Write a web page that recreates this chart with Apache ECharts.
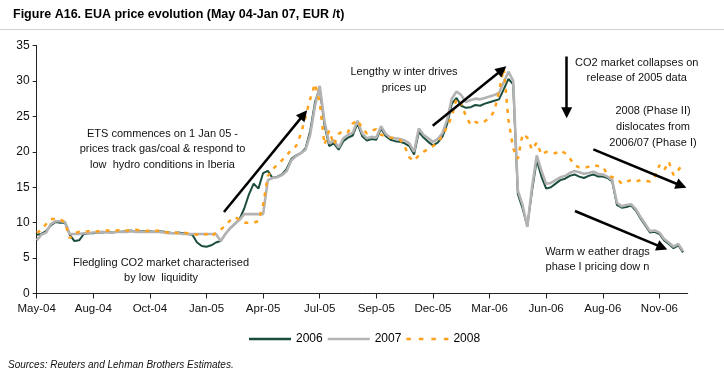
<!DOCTYPE html>
<html><head><meta charset="utf-8">
<script src="https://cdn.jsdelivr.net/npm/echarts@6/dist/echarts.min.js"></script>
<style>html,body{margin:0;padding:0;background:#fff}#c{width:724px;height:378px}</style>
</head><body><div id="c"></div>
<script>
// x tick labels: one every 12 data points
const tickLabels = ['May-04','Aug-04','Oct-04','Jan-05','Apr-05','Jul-05','Sep-05','Dec-05','Mar-06','Jun-06','Aug-06','Nov-06'];
const pointsPerTick = 12;
const nCategories = 139;
const yTicks = [0, 35, 5]; // min, max, interval

const s2006 = [
 8.3, 8.4, 8.8, 9.6,10.1,10.0,10.0, 8.3, 7.4, 7.5,
 8.4, 8.5, 8.5, 8.6, 8.6, 8.7, 8.6, 8.7, 8.7, 8.8,
 8.9, 8.7, 8.8, 8.8, 8.8, 8.7, 8.8, 8.7, 8.6, 8.5,
 8.6, 8.5, 8.4, 8.3, 7.2, 6.7, 6.6, 6.8, 7.2, 7.4,
 8.4, 9.2, 9.8,10.5,12.0,14.0,15.5,14.8,17.0,17.3,
16.3,16.5,16.8,17.6,19.0,19.5,19.8,20.5,23.0,27.0,
29.0,23.8,20.8,21.2,20.3,21.5,22.0,22.3,24.0,22.2,
21.6,21.8,21.7,23.3,22.2,21.7,21.5,21.4,21.2,20.8,
19.6,22.8,22.0,21.4,20.9,21.3,22.1,23.9,26.8,27.6,
26.5,26.2,26.3,26.6,26.5,26.8,27.0,27.2,27.4,28.8,
30.3,29.5,14.0,12.0, 9.5,14.5,18.8,16.5,14.8,15.0,
15.5,16.0,16.2,16.6,16.8,16.5,16.3,16.6,16.8,16.5,
16.5,16.3,15.8,12.5,12.1,12.2,12.4,11.7,10.6, 9.6,
 8.6, 8.7, 8.4, 7.5, 7.0, 6.4, 6.8, 5.8
];
const s2007 = [
 7.5, 8.3, 8.6, 9.8,10.2,10.2,10.1, 8.4, 8.4, 8.4,
 8.5, 8.5, 8.6, 8.6, 8.7, 8.6, 8.6, 8.7, 8.7, 8.7,
 8.8, 8.7, 8.7, 8.7, 8.7, 8.7, 8.7, 8.6, 8.5, 8.5,
 8.5, 8.4, 8.4, 8.4, 8.4, 8.4, 8.4, 8.4, 8.4, 7.4,
 8.4, 9.2, 9.8,10.4,11.2,11.2,11.2,11.2,11.2,16.0,
16.3,16.4,16.7,17.3,18.8,19.4,19.8,20.3,22.5,26.5,
29.3,24.3,21.2,21.6,20.6,21.9,22.4,22.7,24.4,22.6,
21.9,22.1,22.0,23.6,22.5,22.0,21.9,21.8,21.6,21.2,
20.0,23.3,22.4,21.9,21.4,21.8,22.6,24.5,27.5,28.5,
28.0,27.0,27.3,27.5,27.4,27.6,27.8,28.0,28.3,29.8,
31.3,30.0,14.5,12.5, 9.4,15.0,19.5,17.3,15.5,15.6,
16.0,16.4,16.6,17.0,17.3,17.1,16.9,17.0,17.2,16.9,
16.8,16.5,16.0,12.8,12.3,12.5,12.6,11.9,10.8, 9.8,
 8.8, 8.9, 8.6, 7.7, 7.2, 6.6, 7.0, 6.0
];
const s2008 = [
 8.6, 8.9, 9.8,10.5,10.5,10.5,10.0, 7.8, 8.5, 8.7,
 8.7, 8.8, 8.7, 8.8, 8.9, 8.9, 8.8, 8.9, 9.0, 8.9,
 8.9, 9.0, 8.9, 8.8, 8.9, 8.8, 8.9, 8.7, 8.6, 8.7,
 8.5, 8.6, 8.5, 8.4, 8.3, 8.2, 8.4, 8.0, 8.6, 9.0,
 9.6,10.3,10.8,10.4,10.0,10.0,10.0,10.2,12.5,16.6,
17.5,18.2,18.8,19.5,20.3,20.8,22.5,25.0,27.5,29.6,
27.0,21.0,23.0,21.0,22.5,23.0,22.8,24.0,24.5,23.3,
22.6,23.0,23.2,22.4,22.2,22.0,21.9,21.7,20.8,19.2,
18.7,19.5,20.0,20.4,20.8,21.3,22.3,23.5,25.0,27.5,
26.8,25.0,23.8,24.2,24.0,24.3,24.8,25.7,28.5,31.8,
24.5,20.5,19.0,22.5,22.0,20.3,21.3,19.6,20.0,19.9,
19.8,20.2,19.8,19.1,18.1,17.8,17.7,17.9,18.1,18.0,
17.9,16.8,16.4,16.2,15.5,15.8,16.0,15.8,16.0,15.9,
15.8,16.5,18.1,17.4,18.6,16.7,17.4,18.4
];
// annotation arrows [x0, y0, x1, y1] in (point index, EUR/t)
const arrowLines = [
  [39.7, 11.5, 56.6, 25.25],
  [83.95, 23.68, 98.66, 31.57],
  [112.35, 33.45, 112.35, 25.5],
  [118.0, 20.35, 136.65, 15.21],
  [114.1, 11.64, 132.6, 6.5]
];

const categories = Array.from({length: nCategories}, (_, i) => String(i));
const FONT = 'Liberation Sans, Arial, sans-serif';
const C2006 = '#1b4d3e', C2007 = '#b3b3b3', C2008 = '#ffa11a';
const chart = echarts.init(document.getElementById('c'), null, {renderer: 'canvas'});

function note(text, x, y, lh) {
  return {type: 'text', x: x, y: y, silent: true,
    style: {text: text, fill: '#111', font: '11px ' + FONT, textAlign: 'center', textVerticalAlign: 'middle', lineHeight: lh}};
}
const solidIcon = 'path://M0,0H42V2.4H0Z';
const dashIcon = 'path://M0,0H4.5V2.4H0Z M12.5,0H17V2.4H12.5Z M25,0H29.5V2.4H25Z M37.5,0H42V2.4H37.5Z';

chart.setOption({
  animation: false,
  backgroundColor: '#fff',
  title: {text: 'Figure A16. EUA price evolution (May 04-Jan 07, EUR /t)', left: 8, top: 3,
    textStyle: {fontFamily: FONT, fontWeight: 'bold', fontSize: 12.5, color: '#000'}},
  grid: {left: 36.67, right: 36.3, top: 45.5, bottom: 84.5},
  legend: {
    data: [{name: '2006', icon: solidIcon}, {name: '2007', icon: solidIcon}, {name: '2008', icon: dashIcon}],
    left: 244, top: 328, itemWidth: 42, itemHeight: 2.4, itemGap: 5,
    textStyle: {fontFamily: FONT, fontSize: 12, color: '#000'}},
  xAxis: [{
    type: 'category', data: categories, boundaryGap: false,
    axisLine: {lineStyle: {color: '#222', width: 1}},
    axisTick: {interval: pointsPerTick - 1, length: 5, lineStyle: {color: '#222'}},
    axisLabel: {interval: pointsPerTick - 1, margin: 9, fontFamily: FONT, fontSize: 11.5, color: '#111',
      formatter: (v, idx) => (idx % pointsPerTick === 0 ? (tickLabels[idx / pointsPerTick] || '') : '')},
    splitLine: {show: false}
  }, {
    type: 'value', min: 0, max: nCategories - 1, show: false
  }],
  yAxis: {
    type: 'value', min: yTicks[0], max: yTicks[1], interval: yTicks[2],
    axisLine: {show: true, lineStyle: {color: '#222', width: 1}},
    axisTick: {show: true, length: 4, lineStyle: {color: '#222'}},
    axisLabel: {margin: 7, fontFamily: FONT, fontSize: 12, color: '#111'},
    splitLine: {show: false}
  },
  series: [
    {name: '2006', type: 'line', data: s2006, symbol: 'none', color: C2006,
     lineStyle: {color: C2006, width: 2}},
    {name: '2007', type: 'line', data: s2007, symbol: 'none', color: C2007,
     lineStyle: {color: C2007, width: 2.6}},
    {name: '2008', type: 'line', data: s2008, symbol: 'none', color: C2008,
     lineStyle: {color: C2008, width: 2.5, type: [4, 6]}},
    {name: 'arrows', type: 'line', xAxisIndex: 1, data: [], symbol: 'none',
     markLine: {silent: true, animation: false, symbol: ['none', 'triangle'], symbolSize: 11,
       lineStyle: {color: '#000', width: 2.5, type: 'solid'}, label: {show: false},
       emphasis: {disabled: true},
       itemStyle: {color: '#000'},
       data: arrowLines.map(a => [{coord: [a[0], a[1]]}, {coord: [a[2], a[3]]}])}}
  ],
  graphic: [
    {type: 'line', silent: true, shape: {x1: 0, y1: 29.5, x2: 724, y2: 29.5}, style: {stroke: '#d2d2d2', lineWidth: 1}},
    note('ETS commences on 1 Jan 05 -\nprices track gas/coal & respond to\nlow  hydro conditions in Iberia', 162.5, 149, 15.5),
    note('Fledgling CO2 market characterised\nby low  liquidity', 161, 270.5, 15.6),
    note('Lengthy w inter drives\nprices up', 404, 80.3, 16),
    note('CO2 market collapses on\nrelease of 2005 data', 636.7, 70.3, 15.5),
    note('2008 (Phase II)\ndislocates from\n2006/07 (Phase I)', 653, 127.2, 16),
    note('Warm w eather drags\nphase I pricing dow n', 597.5, 259.8, 15),
    {type: 'text', x: 8, y: 365, silent: true,
     style: {text: 'Sources: Reuters and Lehman Brothers Estimates.', fill: '#111', font: 'italic 10px ' + FONT, textVerticalAlign: 'middle'}}
  ]
});
</script>
</body></html>
